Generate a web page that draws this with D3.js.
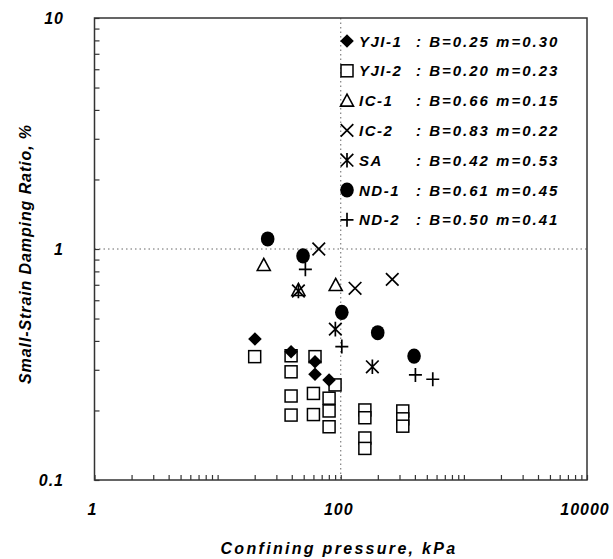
<!DOCTYPE html>
<html>
<head>
<meta charset="utf-8">
<script src="https://cdn.jsdelivr.net/npm/d3@7"></script>
<style>
  html, body { margin: 0; padding: 0; background: #fff; }
  svg { display: block; }
  text { font-family: "Liberation Sans", Arial, sans-serif; font-weight: bold; font-style: italic; fill: #000; }
</style>
</head>
<body>
<svg id="chart" width="613" height="559"></svg>
<script>
// ---------------- data ----------------
const seriesNames = ["YJI-1", "YJI-2", "IC-1", "IC-2", "SA", "ND-1", "ND-2"];
const seriesParams = [": B=0.25 m=0.30", ": B=0.20 m=0.23", ": B=0.66 m=0.15", ": B=0.83 m=0.22", ": B=0.42 m=0.53", ": B=0.61 m=0.45", ": B=0.50 m=0.41"];
const seriesShapes = ["diamond", "square", "triangle", "cross", "asterisk", "circle", "plus"];

// confining pressure (kPa), damping ratio (%)
const yji1P = [20.1, 39.5, 61.8, 61.8, 80.4];
const yji1D = [0.408, 0.359, 0.325, 0.287, 0.271];
const yji2P = [20.0, 39.5, 39.5, 39.5, 39.5, 61.8, 60.0, 60.0, 89.9, 80.4, 80.4, 80.4, 157, 157, 157, 157, 319, 319, 319];
const yji2D = [0.342, 0.345, 0.294, 0.231, 0.191, 0.342, 0.237, 0.192, 0.258, 0.226, 0.199, 0.170, 0.201, 0.186, 0.152, 0.137, 0.199, 0.184, 0.171];
const ic1P = [23.7, 45.3, 91.0];
const ic1D = [0.853, 0.665, 0.699];
const ic2P = [66.3, 130.7, 262];
const ic2D = [1.0, 0.676, 0.739];
const saP = [45.3, 90.4, 180.6];
const saD = [0.658, 0.450, 0.309];
const nd1P = [25.5, 49.4, 102, 199.7, 394];
const nd1D = [1.105, 0.933, 0.532, 0.434, 0.344];
const nd2P = [51.6, 102, 404, 559];
const nd2D = [0.817, 0.378, 0.285, 0.273];

const xTickLabels = ["1", "100", "10000"];
const xTickValues = [1, 100, 10000];
const yTickLabels = ["0.1", "1", "10"];
const yTickValues = [0.1, 1, 10];

const xTitle = "Confining pressure, kPa";
const yTitle = "Small-Strain Damping Ratio, %";

const seriesP = [yji1P, yji2P, ic1P, ic2P, saP, nd1P, nd2P];
const seriesD = [yji1D, yji2D, ic1D, ic2D, saD, nd1D, nd2D];

// ---------------- layout ----------------
const L = 94.5, R = 587, T = 18, B = 480;
const svg = d3.select("#chart");
const x = d3.scaleLog().domain([1, 10000]).range([L, R]);
const y = d3.scaleLog().domain([0.1, 10]).range([B, T]);

// dotted reference lines at x=100, y=1
svg.append("line").attr("x1", x(100)).attr("x2", x(100)).attr("y1", T).attr("y2", B)
  .attr("stroke", "#666").attr("stroke-width", 1).attr("stroke-dasharray", "1.5,3");
svg.append("line").attr("x1", L).attr("x2", R).attr("y1", y(1)).attr("y2", y(1))
  .attr("stroke", "#666").attr("stroke-width", 1).attr("stroke-dasharray", "1.5,3");

// axes with inward minor ticks
const xAxis = d3.axisBottom(x).tickValues(x.ticks()).tickSize(-5).tickFormat("");
const yAxis = d3.axisLeft(y).tickValues(y.ticks()).tickSize(-5).tickFormat("");
const gx = svg.append("g").attr("transform", `translate(0,${B})`).call(xAxis);
const gy = svg.append("g").attr("transform", `translate(${L},0)`).call(yAxis);
[gx, gy].forEach(g => {
  g.select(".domain").remove();
  g.selectAll("line").attr("stroke", "#333").attr("stroke-width", 1.2);
});

// frame
svg.append("rect").attr("x", L).attr("y", T).attr("width", R - L).attr("height", B - T)
  .attr("fill", "none").attr("stroke", "#333").attr("stroke-width", 1.5);

// tick labels
svg.selectAll(".xl").data(xTickValues).join("text")
  .attr("x", d => x(d) - 2).attr("y", 515).attr("text-anchor", "middle")
  .attr("font-size", 16).attr("letter-spacing", 1).text((d, i) => xTickLabels[i]);
svg.selectAll(".yl").data(yTickValues).join("text")
  .attr("x", 64).attr("y", d => y(d) + 6).attr("text-anchor", "end")
  .attr("font-size", 16).attr("letter-spacing", 1).text((d, i) => yTickLabels[i]);

// titles
svg.append("text").attr("x", 339).attr("y", 554).attr("text-anchor", "middle")
  .attr("font-size", 16).attr("letter-spacing", 2.3).text(xTitle);
svg.append("text").attr("transform", `translate(31,254) rotate(-90)`).attr("text-anchor", "middle")
  .attr("font-size", 16).attr("letter-spacing", 0.9).text(yTitle);

// ---------------- markers ----------------
function drawMarker(g, shape, cx, cy) {
  const s = 6.3;
  if (shape === "diamond") {
    g.append("path").attr("d", `M${cx},${cy - 6.8}L${cx + 6.8},${cy}L${cx},${cy + 6.8}L${cx - 6.8},${cy}Z`).attr("fill", "#000");
  } else if (shape === "square") {
    g.append("rect").attr("x", cx - 6).attr("y", cy - 6).attr("width", 12).attr("height", 12)
      .attr("fill", "#fff").attr("stroke", "#000").attr("stroke-width", 1.5);
  } else if (shape === "triangle") {
    g.append("path").attr("d", `M${cx},${cy - 6.5}L${cx + 6.5},${cy + 5.5}L${cx - 6.5},${cy + 5.5}Z`)
      .attr("fill", "none").attr("stroke", "#000").attr("stroke-width", 1.6);
  } else if (shape === "cross") {
    g.append("path").attr("d", `M${cx - s},${cy - s}L${cx + s},${cy + s}M${cx - s},${cy + s}L${cx + s},${cy - s}`)
      .attr("stroke", "#000").attr("stroke-width", 1.7);
  } else if (shape === "asterisk") {
    g.append("path").attr("d", `M${cx - s},${cy - s}L${cx + s},${cy + s}M${cx - s},${cy + s}L${cx + s},${cy - s}M${cx},${cy - s - 1}L${cx},${cy + s + 1}`)
      .attr("stroke", "#000").attr("stroke-width", 1.7);
  } else if (shape === "circle") {
    g.append("ellipse").attr("cx", cx).attr("cy", cy).attr("rx", 6.8).attr("ry", 7.6).attr("fill", "#000");
  } else if (shape === "plus") {
    g.append("path").attr("d", `M${cx - 6.5},${cy}L${cx + 6.5},${cy}M${cx},${cy - 7}L${cx},${cy + 7}`)
      .attr("stroke", "#000").attr("stroke-width", 1.7);
  }
}

const drawOrder = [1, 0, 2, 3, 4, 5, 6];
drawOrder.forEach(si => {
  const g = svg.append("g");
  seriesP[si].forEach((p, i) => drawMarker(g, seriesShapes[si], x(p), y(seriesD[si][i])));
});

// ---------------- legend ----------------
const lg = svg.append("g");
seriesNames.forEach((n, i) => {
  const cy = 41 + i * 29.8;
  drawMarker(lg, seriesShapes[i], 347, cy);
  lg.append("text").attr("x", 359).attr("y", cy + 5.5).attr("font-size", 15).attr("letter-spacing", 1.5).text(n);
  lg.append("text").attr("x", 416).attr("y", cy + 5.5).attr("font-size", 15).attr("letter-spacing", 2).text(seriesParams[i]);
});
</script>
</body>
</html>
